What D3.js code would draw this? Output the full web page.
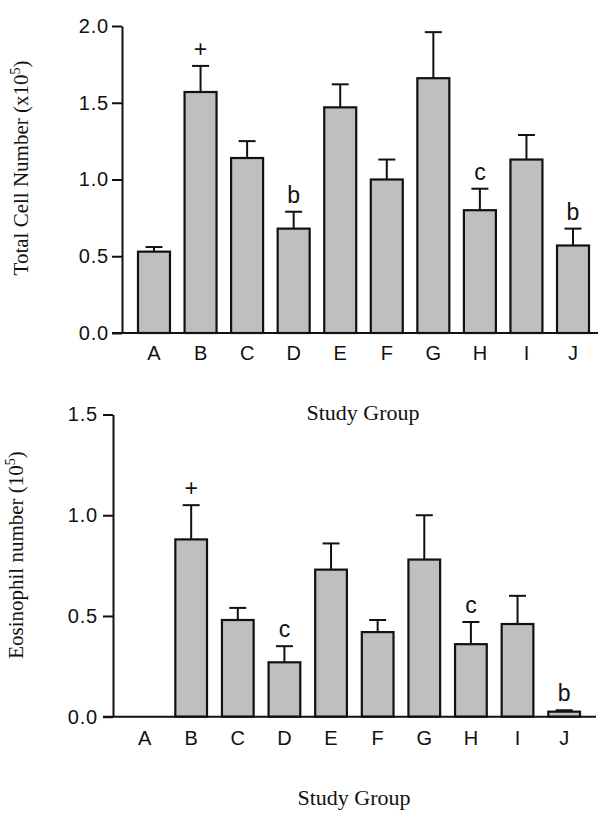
<!DOCTYPE html>
<html>
<head>
<meta charset="utf-8">
<script src="https://cdn.jsdelivr.net/npm/d3@7"></script>
<style>
  html, body { margin: 0; padding: 0; background: #fff; }
  svg { display: block; }
</style>
</head>
<body>
<svg id="chart" width="600" height="821"></svg>
<script>
// ---- data ----
const categories = ["A","B","C","D","E","F","G","H","I","J"];

const totalMean  = [0.53, 1.57, 1.14, 0.68, 1.47, 1.00, 1.66, 0.80, 1.13, 0.57];
const totalErr   = [0.56, 1.74, 1.25, 0.79, 1.62, 1.13, 1.96, 0.94, 1.29, 0.68];
const totalMarks = ["", "+", "", "b", "", "", "", "c", "", "b"];
const totalTicks = [0, 0.5, 1.0, 1.5, 2.0];

const eosMean  = [0.00, 0.88, 0.48, 0.27, 0.73, 0.42, 0.78, 0.36, 0.46, 0.025];
const eosErr   = [0.00, 1.05, 0.54, 0.35, 0.86, 0.48, 1.00, 0.47, 0.60, 0.032];
const eosMarks = ["", "+", "", "c", "", "", "", "c", "", "b"];
const eosTicks = [0, 0.5, 1.0, 1.5];

const svg = d3.select("#chart");

function panel(cfg) {
  const g = svg.append("g");
  const y = d3.scaleLinear().domain(cfg.yDomain).range(cfg.yRange);
  const x = d3.scaleBand().domain(categories).range(cfg.xRange)
              .paddingInner(cfg.padInner).paddingOuter(0);
  const y0 = y(0);

  // bars
  g.selectAll("rect.bar").data(categories).enter().append("rect")
    .attr("class", "bar")
    .attr("x", d => x(d))
    .attr("width", x.bandwidth())
    .attr("y", (d, i) => y(cfg.mean[i]))
    .attr("height", (d, i) => y0 - y(cfg.mean[i]))
    .attr("fill", "#bfbfbf")
    .attr("stroke", (d, i) => cfg.mean[i] > 0 ? "#111" : "none")
    .attr("stroke-width", 2.2);

  // error bars
  const cap = 17;
  categories.forEach((c, i) => {
    if (cfg.err[i] <= cfg.mean[i]) return;
    const cx = x(c) + x.bandwidth() / 2;
    g.append("line").attr("x1", cx).attr("x2", cx)
      .attr("y1", y(cfg.mean[i])).attr("y2", y(cfg.err[i]))
      .attr("stroke", "#111").attr("stroke-width", 2);
    g.append("line").attr("x1", cx - cap / 2).attr("x2", cx + cap / 2)
      .attr("y1", y(cfg.err[i])).attr("y2", y(cfg.err[i]))
      .attr("stroke", "#111").attr("stroke-width", 2);
  });

  // significance marks
  g.selectAll("text.mark").data(categories).enter().append("text")
    .attr("class", "mark")
    .attr("x", d => x(d) + x.bandwidth() / 2)
    .attr("y", (d, i) => y(Math.max(cfg.err[i], cfg.mean[i])) - 9)
    .attr("text-anchor", "middle")
    .attr("font-family", "'Liberation Sans', Arial, sans-serif")
    .attr("font-size", 23)
    .attr("fill", "#111")
    .text((d, i) => cfg.marks[i]);

  // y axis
  const ya = d3.axisLeft(y).tickValues(cfg.ticks).tickFormat(d3.format(".1f"))
    .tickSizeInner(10).tickSizeOuter(0).tickPadding(cfg.tickPad);
  const yg = g.append("g").attr("transform", `translate(${cfg.axisX},0)`).call(ya);
  yg.select(".domain").attr("stroke", "#111").attr("stroke-width", 2);
  yg.selectAll(".tick line").attr("stroke", "#111").attr("stroke-width", 2);
  yg.selectAll(".tick text").attr("font-family", "'Liberation Sans', Arial, sans-serif")
    .attr("font-size", 20).attr("fill", "#111").attr("letter-spacing", 0.8);

  // x axis line
  g.append("line").attr("x1", cfg.axisX - 10).attr("x2", cfg.xEnd)
    .attr("y1", y0).attr("y2", y0).attr("stroke", "#111").attr("stroke-width", 2);

  const xa = d3.axisBottom(x).tickSize(0).tickPadding(cfg.xPad);
  const xg = g.append("g").attr("transform", `translate(0,${y0})`).call(xa);
  xg.select(".domain").remove();
  xg.selectAll(".tick text").attr("font-family", "'Liberation Sans', Arial, sans-serif")
    .attr("font-size", 20).attr("fill", "#111");

  // x title
  g.append("text").attr("x", cfg.titleX).attr("y", cfg.titleY)
    .attr("text-anchor", "middle")
    .attr("font-family", "'Liberation Serif', 'Times New Roman', serif")
    .attr("font-size", 22).attr("fill", "#111")
    .text("Study Group");

  // y title
  const t = g.append("text")
    .attr("transform", `translate(${cfg.yLabX},${cfg.yLabY}) rotate(-90)`)
    .attr("text-anchor", "middle")
    .attr("font-family", "'Liberation Serif', 'Times New Roman', serif")
    .attr("font-size", 21).attr("fill", "#111");
  t.append("tspan").text(cfg.yLab);
  t.append("tspan").attr("font-size", 14).attr("dy", "-0.6em").text("5");
  t.append("tspan").attr("dy", "0.4em").text(")");
}

panel({
  mean: totalMean, err: totalErr, marks: totalMarks, ticks: totalTicks,
  yDomain: [0, 2], yRange: [333, 26],
  xRange: [138, 589], padInner: 0.313,
  axisX: 122, xEnd: 598, tickPad: 3, xPad: 13,
  titleX: 363, titleY: 420,
  yLab: "Total Cell Number (x10", yLabX: 28, yLabY: 168
});

panel({
  mean: eosMean, err: eosErr, marks: eosMarks, ticks: eosTicks,
  yDomain: [0, 1.5], yRange: [716.7, 414.5],
  xRange: [128.7, 580], padInner: 0.32,
  axisX: 113, xEnd: 596, tickPad: 5, xPad: 14,
  titleX: 354, titleY: 805,
  yLab: "Eosinophil number (10", yLabX: 23, yLabY: 555
});
</script>
</body>
</html>
